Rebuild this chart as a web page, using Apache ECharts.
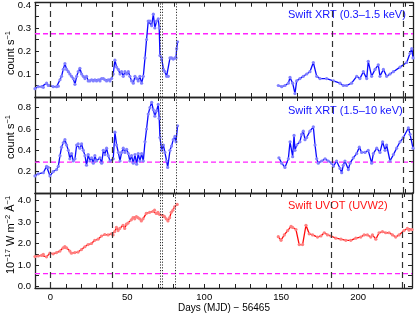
<!DOCTYPE html>
<html><head><meta charset="utf-8">
<script src="https://cdn.jsdelivr.net/npm/echarts@6/dist/echarts.min.js"></script>
<style>html,body{margin:0;padding:0;background:#fff}#c{width:415px;height:314px}</style>
</head><body><div id="c"></div>
<script>
// ---- data (days = MJD - 56465); null marks the observing gap ----
const softDays = [-10,-7.9,-5.7,-4.6,-2.5,-1.4,-0.3,1.8,4.0,5.1,6.2,7.2,8.3,9.4,10.5,11.6,12.6,13.7,14.8,15.9,17.0,18.0,19.1,20.2,21.3,22.4,23.4,24.5,25.6,26.7,27.8,28.8,29.9,31.0,32.1,33.2,34.3,35.3,36.4,37.5,38.6,39.7,40.7,41.8,42.9,44.0,45.1,46.1,47.2,48.3,49.4,50.5,51.5,52.6,53.7,54.8,55.9,56.9,58.0,59.1,60.2,61.3,62.3,63.4,64.5,65.6,66.7,67.7,68.8,69.9,70.5,71.0,72.1,73.2,74.2,75.3,76.4,77.5,78.5,79.6,80.7,81.4,81.8,82.4,
  115,
  147.7,149.9,152.0,154.2,155.3,157.0,158.5,159.6,161.7,163.9,166.1,168.2,170.4,172.6,174.7,179.0,183.4,187.7,189.8,192.0,195.2,198.5,200.6,202.8,205.0,206.0,208.2,210.4,212.5,213.6,215.8,217.9,220.1,222.3,226.6,230.9,233.1,234.2,235];
const softRate = [0.036,0.045,0.045,0.042,0.06,0.05,0.05,0.045,0.045,0.047,0.075,0.09,0.12,0.145,0.12,0.11,0.10,0.09,0.08,0.055,0.09,0.11,0.125,0.10,0.09,0.08,0.09,0.07,0.07,0.075,0.07,0.075,0.07,0.075,0.07,0.08,0.08,0.075,0.07,0.075,0.07,0.08,0.10,0.16,0.13,0.12,0.10,0.11,0.09,0.11,0.10,0.11,0.09,0.07,0.06,0.09,0.08,0.07,0.09,0.06,0.09,0.17,0.25,0.33,0.33,0.31,0.36,0.30,0.33,0.34,0.30,0.18,0.17,0.12,0.11,0.09,0.09,0.17,0.17,0.165,0.17,0.17,0.21,0.24,
  null,
  0.05,0.045,0.05,0.06,0.085,0.06,0.015,0.07,0.08,0.09,0.10,0.11,0.15,0.09,0.08,0.08,0.07,0.06,0.05,0.05,0.06,0.09,0.08,0.11,0.08,0.155,0.09,0.12,0.14,0.09,0.12,0.09,0.10,0.11,0.13,0.15,0.19,0.21,0.17];

const hardDays = [-10,-7.9,-4.6,-2.5,-1.4,-0.3,1.8,4.0,5.1,6.2,7.2,8.3,9.4,10.5,11.6,12.6,13.7,14.8,15.9,17.0,18.0,19.1,20.2,21.3,22.4,23.4,24.5,25.6,26.7,27.8,28.8,29.9,32.1,33.2,34.3,35.3,36.4,37.5,38.6,40.7,41.8,42.9,44.0,45.1,46.1,47.2,48.3,49.4,50.5,51.5,52.6,53.7,54.8,55.9,56.9,58.0,59.1,60.2,61.3,62.3,63.4,64.5,65.6,66.7,67.7,68.8,69.9,70.5,71.0,72.1,73.2,74.2,75.3,76.0,77.5,78.5,79.6,80.7,81.4,82.4,
  115,
  148.1,149.9,152.0,154.2,155.3,157.0,157.9,158.5,159.6,161.7,162.8,163.9,165.0,166.1,168.2,170.4,171.5,172.6,173.6,175.8,178.0,180.1,182.3,183.4,185.5,187.7,188.8,189.8,190.9,193.1,194.2,196.3,198.5,200.2,201.7,203.9,206.0,208.2,209.3,211.5,213.6,215.3,216.9,217.9,220.1,222.3,224.4,226.6,228.7,232.0,233.1,235];
const hardRate = [0.16,0.18,0.19,0.25,0.24,0.16,0.20,0.22,0.25,0.35,0.43,0.47,0.50,0.45,0.40,0.32,0.37,0.30,0.32,0.45,0.46,0.42,0.46,0.40,0.35,0.26,0.36,0.30,0.33,0.28,0.35,0.30,0.33,0.28,0.40,0.36,0.42,0.35,0.30,0.32,0.57,0.45,0.38,0.30,0.38,0.42,0.38,0.41,0.37,0.30,0.35,0.28,0.36,0.27,0.37,0.30,0.37,0.30,0.48,0.60,0.74,0.80,0.85,0.78,0.72,0.77,0.83,0.70,0.52,0.40,0.45,0.38,0.30,0.24,0.40,0.44,0.50,0.53,0.48,0.63,
  null,
  0.33,0.28,0.24,0.32,0.48,0.34,0.54,0.40,0.45,0.48,0.55,0.58,0.50,0.52,0.58,0.62,0.45,0.32,0.28,0.30,0.32,0.30,0.28,0.25,0.30,0.23,0.19,0.26,0.30,0.22,0.28,0.33,0.37,0.43,0.38,0.38,0.40,0.28,0.37,0.42,0.38,0.48,0.40,0.45,0.30,0.36,0.42,0.48,0.52,0.61,0.55,0.42];

const uvotDays = [-10,-7.9,-5.7,-4.6,-2.5,-0.3,1.8,4.0,6.2,8.3,9.4,10.5,12.6,13.7,15.9,18.0,20.2,22.4,24.5,26.7,28.8,31.0,33.2,35.3,37.5,39.7,40.7,41.8,42.9,44.0,45.1,47.2,48.3,49.4,50.5,52.6,53.7,54.8,55.9,56.9,58.0,59.1,60.2,62.3,64.5,66.7,67.7,68.8,69.9,71.0,73.2,74.2,75.3,76.4,77.5,78.5,79.6,80.7,82.4,
  115,
  148.1,149.9,152.0,154.2,156.4,157.4,159.6,161.7,163.9,166.1,168.2,170.4,173.6,175.8,178.0,180.1,182.3,185.5,188.8,192.0,195.2,198.5,201.7,203.9,206.0,208.2,209.3,211.5,213.6,215.8,217.9,220.1,222.3,224.4,226.6,229.8,232.0,233.1,235];
const uvotFlux = [1.39,1.42,1.45,1.50,1.38,1.55,1.52,1.58,1.65,1.80,1.86,1.80,1.65,1.55,1.58,1.60,1.72,1.85,1.95,2.0,2.15,2.2,2.35,2.42,2.40,2.45,2.40,2.55,2.75,2.60,2.70,2.85,2.70,2.90,2.95,3.10,3.20,3.15,3.25,3.20,3.15,3.05,3.15,3.40,3.45,3.50,3.55,3.40,3.45,3.35,3.30,3.25,3.15,3.05,3.20,3.45,3.55,3.70,3.82,
  null,
  2.32,2.15,2.40,2.60,2.80,2.75,2.65,1.95,1.95,2.85,2.45,2.40,2.30,2.35,2.50,2.40,2.35,2.25,2.20,2.15,2.15,2.25,2.30,2.40,2.40,2.30,2.40,2.20,2.50,2.55,2.50,2.50,2.40,2.30,2.40,2.60,2.70,2.62,2.65];

const dashedDays = [0, 40, 182.5, 228.5];
const dottedDays = [71.2, 72.8, 81.3];
const quiescent = [0.275, 0.29, 0.6];      // magenta reference levels per panel
const dayRange = [-10, 235];
const panelNames = ['Swift XRT (0.3–1.5 keV)', 'Swift XRT (1.5–10 keV)', 'Swift UVOT (UVW2)'];
const yRanges = [[0, 0.41], [0, 0.9], [-0.07, 4.35]];
const yTicks = [[0.05,0.1,0.15,0.2,0.25,0.3,0.35,0.4],[0.1,0.2,0.3,0.4,0.5,0.6,0.7,0.8],[0,0.5,1,1.5,2,2.5,3,3.5,4]];
const yLabels = [[0.1,0.2,0.3,0.4],[0.2,0.4,0.6,0.8],[0,1,2,3,4]];
const xTickLabels = [0, 50, 100, 150, 200];

const FONT = '"Liberation Sans", Arial, Helvetica, sans-serif';
const MAGENTA = '#ff22ff';
const grids = [
  {left:35, right:2, top:2, height:95},
  {left:35, right:2, top:97, height:96},
  {left:35, right:2, top:193, height:95}
];
const frame = {show:true, onZero:false, lineStyle:{color:'#222', width:1.3}};
const xAxes = [], yAxes = [];
for (let i = 0; i < 3; i++) {
  ['bottom','top'].forEach(pos => xAxes.push({
    type:'value', gridIndex:i, position:pos, min:dayRange[0], max:dayRange[1], interval:10,
    axisLine:frame,
    axisTick:{show:true, inside:true, length:4, lineStyle:{color:'#222'}},
    axisLabel:{show: i===2 && pos==='bottom', margin:4, color:'#000', fontSize:9.5, fontFamily:FONT,
      formatter: v => xTickLabels.indexOf(v) >= 0 ? String(v) : ''},
    splitLine:{show:false}
  }));
  ['left','right'].forEach(pos => yAxes.push({
    type:'value', gridIndex:i, position:pos, min:yRanges[i][0], max:yRanges[i][1],
    axisLine:frame,
    axisTick:{show:true, inside:true, length:4, customValues:yTicks[i], lineStyle:{color:'#222'}},
    axisLabel:{show: pos==='left', margin:4, color:'#000', fontSize:9.5, fontFamily:FONT,
      customValues:yLabels[i], formatter: v => v.toFixed(1)},
    splitLine:{show:false}
  }));
}

function vLines() {
  return dashedDays.map(d => ({xAxis:d, lineStyle:{color:'#333', type:[6,4], width:1.2}}))
    .concat(dottedDays.map(d => ({xAxis:d, lineStyle:{color:'#333', type:[1.2,1.6], width:1}})));
}
function mkSeries(i, days, vals, color, sym) {
  return {
    type:'line', xAxisIndex:2*i, yAxisIndex:2*i,
    data: days.map((d, k) => [d, vals[k]]),
    connectNulls:false, showSymbol:true, symbol:'circle', symbolSize:3.2,
    lineStyle:{color:color, width:1.3}, itemStyle:{color:sym, borderWidth:0},
    clip:true, z:3,
    markLine:{silent:true, symbol:'none', label:{show:false}, data: vLines()}
  };
}
function mkLevel(i) {
  return {
    type:'line', xAxisIndex:2*i, yAxisIndex:2*i, silent:true, z:2,
    data: dayRange.map(d => [d, quiescent[i]]), showSymbol:false, symbol:'none',
    lineStyle:{color:MAGENTA, type:[5,3], width:1.3}, itemStyle:{color:MAGENTA}
  };
}

const chart = echarts.init(document.getElementById('c'), null, {renderer:'canvas'});
chart.setOption({
  animation:false,
  backgroundColor:'#fff',
  grid: grids,
  xAxis: xAxes,
  yAxis: yAxes,
  series: [
    mkLevel(0), mkLevel(1), mkLevel(2),
    mkSeries(0, softDays, softRate, '#0a0aff', '#8080ff'),
    mkSeries(1, hardDays, hardRate, '#0a0aff', '#8080ff'),
    mkSeries(2, uvotDays, uvotFlux, '#ff0a0a', '#ff8080')
  ],
  graphic: [
    {type:'text', left:288, top:9, style:{text:panelNames[0], fill:'#1414ff', font:'11px '+FONT}},
    {type:'text', left:288, top:105, style:{text:panelNames[1], fill:'#1414ff', font:'11px '+FONT}},
    {type:'text', left:288, top:200, style:{text:panelNames[2], fill:'#ff1414', font:'11px '+FONT}},
    {type:'text', x:11, y:53, rotation:Math.PI/2, style:{text:'{m|count s}{s|−1}', align:'center', verticalAlign:'middle',
      rich:{m:{fontSize:11, fontFamily:FONT, fill:'#000', lineHeight:14}, s:{fontSize:7.5, fontFamily:FONT, fill:'#000', verticalAlign:'top', lineHeight:8}}}},
    {type:'text', x:11, y:137, rotation:Math.PI/2, style:{text:'{m|count s}{s|−1}', align:'center', verticalAlign:'middle',
      rich:{m:{fontSize:11, fontFamily:FONT, fill:'#000', lineHeight:14}, s:{fontSize:7.5, fontFamily:FONT, fill:'#000', verticalAlign:'top', lineHeight:8}}}},
    {type:'text', x:11, y:235, rotation:Math.PI/2, style:{text:'{m|10}{s|−17}{m| W m}{s|−2}{m| Å}{s|−1}', align:'center', verticalAlign:'middle',
      rich:{m:{fontSize:11, fontFamily:FONT, fill:'#000', lineHeight:14}, s:{fontSize:7.5, fontFamily:FONT, fill:'#000', verticalAlign:'top', lineHeight:8}}}},
    {type:'text', x:224, y:308, style:{text:'Days (MJD) − 56465', align:'center', verticalAlign:'middle', fill:'#000', font:'10px '+FONT}}
  ]
});
</script>
</body></html>
